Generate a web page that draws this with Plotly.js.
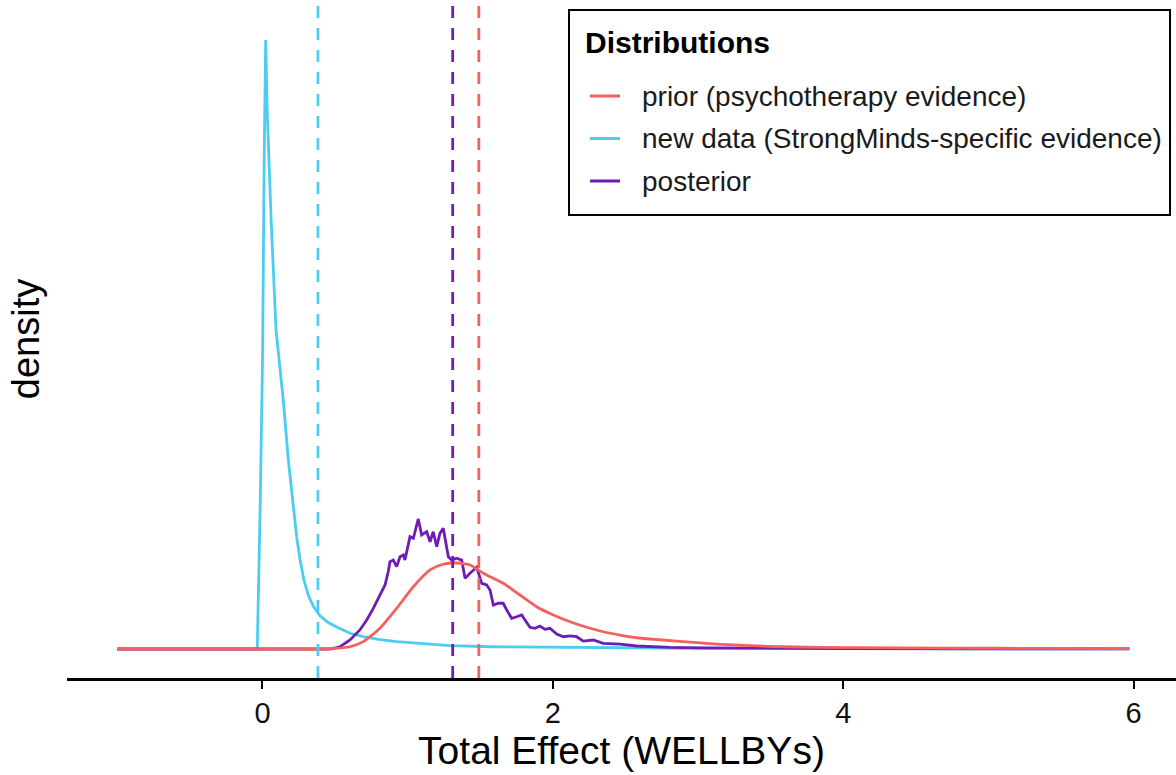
<!DOCTYPE html>
<html>
<head>
<meta charset="utf-8">
<script src="https://cdn.plot.ly/plotly-3.0.1.min.js"></script>
<style>
  html, body { margin: 0; padding: 0; background: #fff; }
  #chart { width: 1176px; height: 775px; }
</style>
</head>
<body>
<div id="chart"></div>
<script>
// ---- data ----
const seriesNames = ["prior (psychotherapy evidence)", "new data (StrongMinds-specific evidence)", "posterior"];
const seriesColors = ["#F5605E", "#4CCCF0", "#6E1CB4"];

const priorX = [-1, 0.40, 0.50, 0.603, 0.694, 0.809, 0.924, 1.039, 1.154, 1.245, 1.314, 1.429, 1.521, 1.658, 1.773, 1.888, 2.003, 2.118, 2.233, 2.347, 2.462, 2.577, 2.760, 2.898, 3.128, 3.357, 3.587, 4.046, 4.735, 5.4, 5.97];
const priorY = [0, 0, 0.004, 0.015, 0.049, 0.138, 0.271, 0.415, 0.527, 0.565, 0.575, 0.560, 0.505, 0.438, 0.360, 0.282, 0.227, 0.182, 0.145, 0.115, 0.093, 0.075, 0.060, 0.049, 0.033, 0.022, 0.015, 0.009, 0.006, 0.004, 0.003];

const newDataX = [-1, -0.05, -0.036, -0.015, 0.001, 0.012, 0.022, 0.032, 0.060, 0.093, 0.118, 0.143, 0.178, 0.212, 0.235, 0.258, 0.285, 0.315, 0.350, 0.396, 0.450, 0.511, 0.555, 0.603, 0.692, 0.800, 0.924, 1.154, 1.291, 1.567, 2.0, 2.5, 3.0, 4.0, 5.0, 5.97];
const newDataY = [0, 0, 0, 1.0, 1.99, 3.3, 4.06, 3.6, 2.85, 2.13, 1.90, 1.66, 1.26, 0.93, 0.75, 0.60, 0.46, 0.36, 0.285, 0.222, 0.178, 0.147, 0.125, 0.105, 0.082, 0.064, 0.049, 0.031, 0.022, 0.015, 0.011, 0.008, 0.005, 0.003, 0.0013, 0.0005];

const postX = [-1, 0.30, 0.465, 0.534, 0.603, 0.671, 0.718, 0.763, 0.809, 0.844, 0.866, 0.878, 0.901, 0.924, 0.947, 0.970, 0.981, 1.004, 1.016, 1.039, 1.057, 1.073, 1.096, 1.131, 1.154, 1.176, 1.200, 1.222, 1.245, 1.257, 1.280, 1.303, 1.337, 1.372, 1.395, 1.429, 1.475, 1.510, 1.544, 1.567, 1.590, 1.624, 1.658, 1.682, 1.716, 1.751, 1.785, 1.808, 1.842, 1.877, 1.911, 1.946, 1.980, 2.026, 2.072, 2.118, 2.164, 2.209, 2.278, 2.347, 2.462, 2.577, 2.691, 2.806, 3.0, 3.5, 4.0, 5.0, 5.97];
const postY = [0, 0, 0, 0.015, 0.060, 0.127, 0.193, 0.271, 0.360, 0.427, 0.515, 0.582, 0.593, 0.549, 0.615, 0.627, 0.593, 0.682, 0.749, 0.738, 0.805, 0.867, 0.760, 0.782, 0.715, 0.782, 0.682, 0.771, 0.805, 0.738, 0.615, 0.593, 0.605, 0.593, 0.471, 0.505, 0.545, 0.438, 0.427, 0.393, 0.293, 0.305, 0.305, 0.260, 0.205, 0.215, 0.227, 0.193, 0.145, 0.138, 0.153, 0.131, 0.138, 0.100, 0.082, 0.087, 0.082, 0.053, 0.060, 0.038, 0.033, 0.020, 0.015, 0.011, 0.008, 0.005, 0.003, 0.001, 0.0005];

// means shown as dashed vertical lines (prior, new data, posterior)
const meanValues = [1.49, 0.382, 1.31];

const xTickVals = [0, 2, 4, 6];
const xTitle = "Total Effect (WELLBYs)";
const yTitle = "density";
const legendTitle = "Distributions";

// ---- traces ----
const FONT = "Liberation Sans, Arial, sans-serif";
const LW = 2.8;
const traces = [
  { x: newDataX, y: newDataY, name: seriesNames[1], type: "scatter", mode: "lines",
    line: { color: seriesColors[1], width: LW }, showlegend: false, hoverinfo: "skip" },
  { x: postX, y: postY, name: seriesNames[2], type: "scatter", mode: "lines",
    line: { color: seriesColors[2], width: LW }, showlegend: false, hoverinfo: "skip" },
  { x: priorX, y: priorY, name: seriesNames[0], type: "scatter", mode: "lines",
    line: { color: seriesColors[0], width: LW, shape: "spline", smoothing: 0.6 }, showlegend: false, hoverinfo: "skip" }
];

// plot area geometry in pixels (for placing the hand-built legend box)
const W = 1176, H = 775, ML = 67, MR = 0, MT = 0, MB = 97;
const PW = W - ML - MR, PH = H - MT - MB;
const px = v => (v - ML) / PW;
const py = v => (H - MB - v) / PH;

const shapes = meanValues.map((m, i) => ({
  type: "line", xref: "x", yref: "paper", x0: m, x1: m, y0: 0, y1: 1,
  line: { color: seriesColors[i], width: LW, dash: "12px,10px" }, layer: "above"
}));

// legend box
shapes.push({ type: "rect", xref: "paper", yref: "paper",
  x0: px(569), x1: px(1170), y0: py(215), y1: py(10),
  line: { color: "#000", width: 2 }, fillcolor: "#ffffff", layer: "above" });

const itemY = [96, 138.5, 181];
const annotations = [
  { xref: "paper", yref: "paper", x: px(583), y: py(43), xanchor: "left", yanchor: "middle",
    text: "<b>" + legendTitle + "</b>", showarrow: false,
    font: { size: 30, family: FONT, color: "#000" } }
];
seriesNames.forEach((n, i) => {
  shapes.push({ type: "line", xref: "paper", yref: "paper",
    x0: px(590), x1: px(620), y0: py(itemY[i]), y1: py(itemY[i]),
    line: { color: seriesColors[i], width: 3 }, layer: "above" });
  annotations.push({ xref: "paper", yref: "paper", x: px(640), y: py(itemY[i]),
    xanchor: "left", yanchor: "middle", text: n, showarrow: false,
    font: { size: 28, family: FONT, color: "#1a1a1a" } });
});

const layout = {
  width: W, height: H,
  margin: { l: ML, r: MR, t: MT, b: MB, pad: 0 },
  paper_bgcolor: "#ffffff", plot_bgcolor: "#ffffff",
  font: { family: FONT, color: "#000" },
  showlegend: false,
  xaxis: {
    range: [-1.3464, 6.2916], tickvals: xTickVals, ticktext: xTickVals.map(String),
    showline: true, linecolor: "#000", linewidth: 2.5, mirror: false,
    ticks: "outside", ticklen: 8, tickwidth: 2, tickcolor: "#000",
    tickfont: { size: 29, family: FONT, color: "#111" },
    showgrid: false, zeroline: false, fixedrange: true,
    title: { text: xTitle, font: { size: 39, family: FONT, color: "#000" }, standoff: 5 }
  },
  yaxis: {
    range: [-0.1933, 4.3267], showticklabels: false, ticks: "",
    showline: false, showgrid: false, zeroline: false, fixedrange: true,
    title: { text: yTitle, font: { size: 38, family: FONT, color: "#000" }, standoff: 14 }
  },
  shapes: shapes,
  annotations: annotations
};

Plotly.newPlot("chart", traces, layout, { staticPlot: true, displayModeBar: false });
</script>
</body>
</html>
